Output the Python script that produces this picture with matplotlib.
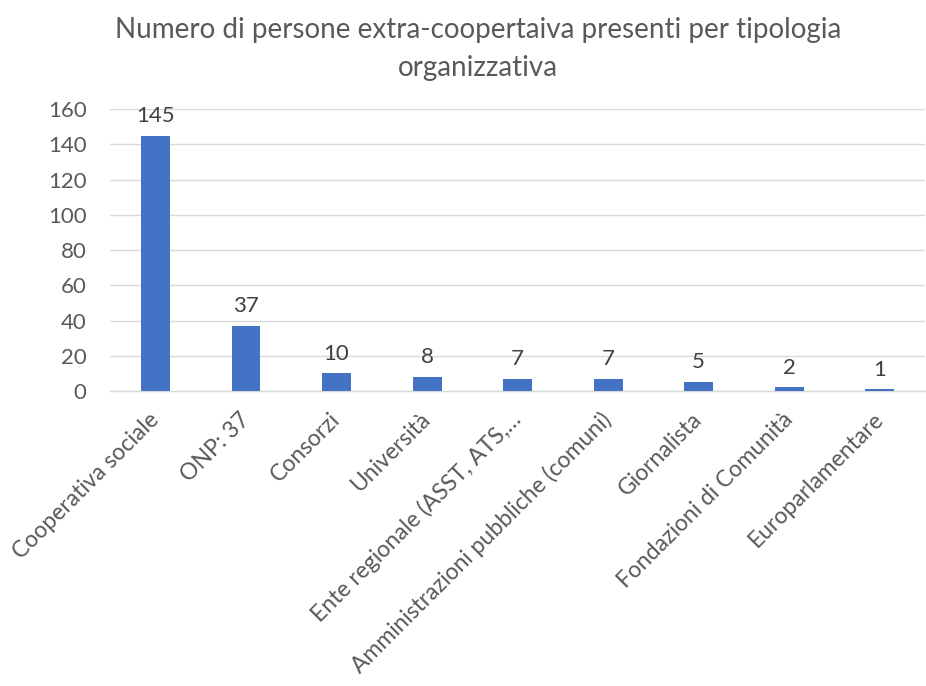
import matplotlib.pyplot as plt

categorie = [
    "Cooperativa sociale",
    "ONP: 37",
    "Consorzi",
    "Università",
    "Ente regionale (ASST, ATS,…",
    "Amministrazioni pubbliche (comuni)",
    "Giornalista",
    "Fondazioni di Comunità",
    "Europarlamentare",
]
persone = [145, 37, 10, 8, 7, 7, 5, 2, 1]
yticks = [0, 20, 40, 60, 80, 100, 120, 140, 160]

testo = "#595959"
plt.rcParams['font.family'] = ['Lato', 'DejaVu Sans']

fig = plt.figure(figsize=(9.26, 6.86), dpi=100)
ax = fig.add_axes([0.119, 0.430, 0.880, 0.411])

x = range(len(categorie))
barre = ax.bar(x, persone, width=0.32, color="#4472C4", zorder=3)

for xi, v in zip(x, persone):
    ax.annotate(str(v), (xi, v), xytext=(0, 7), textcoords="offset points",
                ha="center", va="bottom", fontsize=16, color="#404040")

ax.set_xlim(-0.5, len(categorie) - 0.5)
ax.set_ylim(0, 160)
ax.set_yticks(yticks)
ax.grid(axis="y", color="#d9d9d9", linewidth=1.0, zorder=0)
ax.tick_params(axis="y", length=0, labelsize=16, labelcolor=testo, pad=17)
ax.tick_params(axis="x", length=0, pad=18)
ax.set_xticks(list(x))
ax.set_xticklabels(categorie, rotation=45, ha="right", va="center",
                   rotation_mode="anchor", fontsize=16.5, color=testo)

for s in ["top", "right", "left"]:
    ax.spines[s].set_visible(False)
ax.spines["bottom"].set_color("#d9d9d9")
ax.spines["bottom"].set_linewidth(1.0)

fig.suptitle("Numero di persone extra-coopertaiva presenti per tipologia\norganizzativa",
             x=0.516, y=0.975, fontsize=20, color=testo, linespacing=1.55, va="top")

fig.savefig("out.png", dpi=100)
